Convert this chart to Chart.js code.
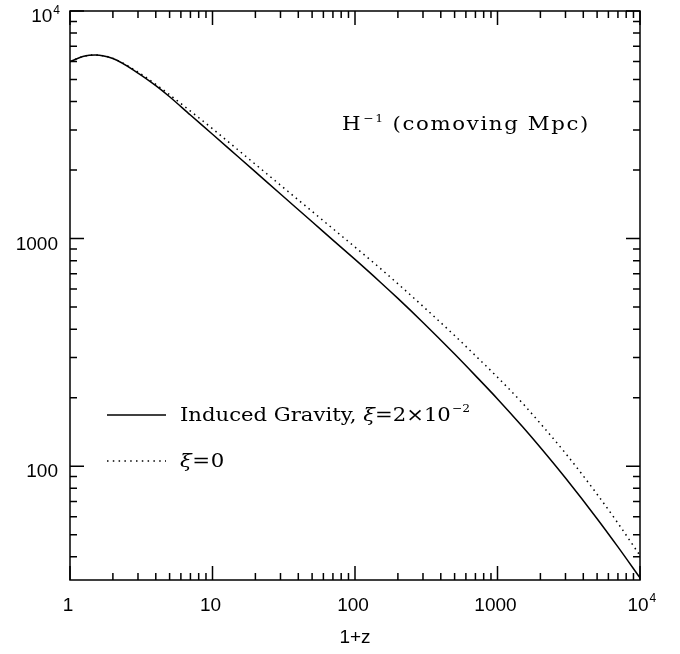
<!DOCTYPE html>
<html>
<head>
<meta charset="utf-8">
<script src="https://cdn.jsdelivr.net/npm/chart.js@4/dist/chart.umd.min.js"></script>
<style>
  html, body { margin: 0; padding: 0; background: #fff; }
  #wrap { width: 680px; height: 654px; }
</style>
</head>
<body>
<div id="wrap"><canvas id="hubble"></canvas></div>
<script>
const xValues = [1, 1.25, 1.5, 2, 3, 4, 5, 7, 10, 15, 20, 30, 50, 70, 100, 150, 200, 300, 500, 700, 1000, 1500, 2000, 3000, 5000, 7000, 10000];
// H^-1 in comoving Mpc
const inducedGravity = [5990, 6330, 6410, 6180, 5340, 4700, 4200, 3490, 2875, 2300, 1963, 1570, 1186, 985, 810, 645, 546, 428, 311, 250, 197.5, 149, 120.8, 88.7, 58.8, 44.2, 32.3];
const xiZero = [5990, 6330, 6416, 6190, 5390, 4760, 4285, 3633, 3040, 2462, 2120, 1717, 1317, 1105, 918, 741, 633, 504, 375, 306, 246, 189, 154, 114, 75.3, 56.2, 40.5];

const xTickLabels = [[1, '1'], [10, '10'], [100, '100'], [1000, '1000'], [10000, '10', '4']];
const yTickLabels = [[100, '100'], [1000, '1000'], [10000, '10', '4']];

const sans = '"Liberation Sans", Arial, sans-serif';
const serif = '"DejaVu Serif", serif';

function pts(ys) {
    return xValues.map(function(x, i) { return {x: x, y: ys[i]}; });
}

// draws a run of text pieces, widened (a bit of stretch, then letter spacing) to a given width
function drawRich(ctx, parts, x, base, width) {
    let natural = 0, chars = 0;
    ctx.letterSpacing = '0px';
    parts.forEach(function(p) {
        ctx.font = p.font;
        natural += ctx.measureText(p.t).width + (p.gap || 0);
        chars += p.t.length;
    });
    const sx = Math.max(1, Math.min(width / natural, 1.12));
    const sp = Math.max(0, (width - natural * sx) / chars);
    let cx = 0;
    ctx.save();
    ctx.translate(x, base);
    ctx.scale(sx, 1);
    parts.forEach(function(p) {
        ctx.font = p.font;
        ctx.letterSpacing = '0px';
        const w = ctx.measureText(p.t).width;
        ctx.letterSpacing = (sp / sx) + 'px';
        ctx.fillText(p.t, cx, p.dy || 0);
        cx += w + (sp / sx) * p.t.length + (p.gap || 0);
    });
    ctx.restore();
    ctx.letterSpacing = '0px';
}

// frame, inward ticks, labels and legend drawn from the chart scales
const framePlugin = {
    id: 'framePlugin',
    afterDraw(chart) {
        const ctx = chart.ctx;
        const a = chart.chartArea;
        const xs = chart.scales.x, ys = chart.scales.y;
        ctx.save();
        ctx.strokeStyle = '#000';
        ctx.fillStyle = '#000';
        ctx.lineWidth = 1.5;
        ctx.strokeRect(a.left, a.top, a.right - a.left, a.bottom - a.top);

        ctx.beginPath();
        for (let d = 0; d <= 4; d++) {
            for (let m = 1; m < 10; m++) {
                const v = m * Math.pow(10, d);
                if (v > 10000) break;
                const px = xs.getPixelForValue(v);
                const len = m === 1 ? 14 : 7;
                ctx.moveTo(px, a.bottom); ctx.lineTo(px, a.bottom - len);
                ctx.moveTo(px, a.top); ctx.lineTo(px, a.top + len);
            }
        }
        for (let d = 1; d <= 4; d++) {
            for (let m = 1; m < 10; m++) {
                const v = m * Math.pow(10, d);
                if (v < 31.6 || v > 10000) continue;
                const py = ys.getPixelForValue(v);
                const len = m === 1 ? 14 : 7;
                ctx.moveTo(a.left, py); ctx.lineTo(a.left + len, py);
                ctx.moveTo(a.right, py); ctx.lineTo(a.right - len, py);
            }
        }
        ctx.stroke();

        // tick labels
        ctx.textBaseline = 'alphabetic';
        xTickLabels.forEach(function(t) {
            const px = xs.getPixelForValue(t[0]);
            ctx.font = '19px ' + sans;
            ctx.textAlign = 'center';
            ctx.fillText(t[1], px - 2, 611);
            if (t[2]) {
                const w = ctx.measureText(t[1]).width;
                ctx.font = '12px ' + sans;
                ctx.textAlign = 'left';
                ctx.fillText(t[2], px - 2 + w / 2 + 1, 602);
            }
        });
        yTickLabels.forEach(function(t) {
            const py = ys.getPixelForValue(t[0]);
            if (t[2]) {
                ctx.font = '12px ' + sans;
                ctx.textAlign = 'right';
                ctx.fillText(t[2], 60, py + 3);
                const w = ctx.measureText(t[2]).width;
                ctx.font = '19px ' + sans;
                ctx.fillText(t[1], 60 - w - 1, py + 11);
            } else {
                ctx.font = '19px ' + sans;
                ctx.textAlign = 'right';
                ctx.fillText(t[1], 58, py + 11);
            }
        });

        // axis title
        ctx.font = '19px ' + sans;
        ctx.textAlign = 'center';
        ctx.fillText('1+z', 355, 643);

        // annotation H^-1 (comoving Mpc)
        ctx.textAlign = 'left';
        const big = '19px ' + serif, small = '11px ' + serif, ital = 'italic 19px ' + serif;
        drawRich(ctx, [
            {t: 'H', font: big, gap: 1},
            {t: '\u22121', font: small, dy: -8, gap: 7},
            {t: '(comoving Mpc)', font: big}
        ], 342, 130, 248);

        // legend
        ctx.lineWidth = 1.5;
        ctx.beginPath();
        ctx.moveTo(107, 415); ctx.lineTo(166, 415);
        ctx.stroke();
        ctx.setLineDash([1.5, 4.3]);
        ctx.beginPath();
        ctx.moveTo(107, 461); ctx.lineTo(166, 461);
        ctx.stroke();
        ctx.setLineDash([]);

        drawRich(ctx, [
            {t: 'Induced Gravity, ', font: big},
            {t: '\u03be', font: ital},
            {t: '=2\u00d710', font: big, gap: 1},
            {t: '\u22122', font: small, dy: -9}
        ], 180, 421, 290);
        drawRich(ctx, [
            {t: '\u03be', font: ital},
            {t: '=0', font: big}
        ], 180, 467, 45);
        ctx.restore();
    }
};

const ctxEl = document.getElementById('hubble');
let chartHubble = new Chart(ctxEl, {
    type: 'line',
    data: {
        datasets: [
            {
                label: 'Induced Gravity, \u03be=2\u00d710\u207b\u00b2',
                data: pts(inducedGravity),
                borderColor: '#000',
                borderWidth: 1.5,
                pointRadius: 0,
                fill: false,
                cubicInterpolationMode: 'monotone'
            },
            {
                label: '\u03be=0',
                data: pts(xiZero),
                borderColor: '#000',
                borderWidth: 1.5,
                borderDash: [1.5, 4],
                pointRadius: 0,
                fill: false,
                cubicInterpolationMode: 'monotone'
            }
        ]
    },
    options: {
        responsive: true,
        maintainAspectRatio: false,
        animation: false,
        layout: {
            padding: {left: 70, right: 40, top: 11, bottom: 74}
        },
        plugins: {
            legend: {display: false},
            tooltip: {enabled: false}
        },
        scales: {
            x: {
                type: 'logarithmic',
                min: 1,
                max: 10000,
                display: false
            },
            y: {
                type: 'logarithmic',
                min: Math.pow(10, 1.5),
                max: 10000,
                display: false
            }
        }
    },
    plugins: [framePlugin]
});
</script>
</body>
</html>
